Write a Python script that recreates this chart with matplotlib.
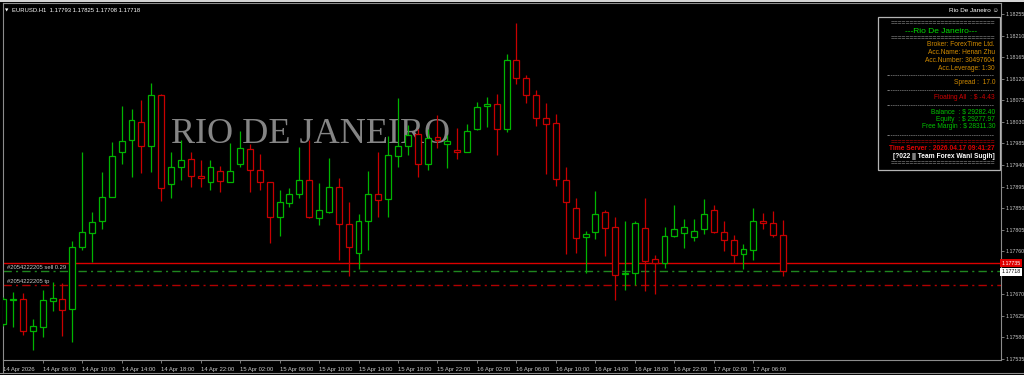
import matplotlib.pyplot as plt
from matplotlib.patches import Rectangle
from matplotlib.lines import Line2D

plt.rcParams['font.family'] = ['Liberation Sans', 'DejaVu Sans']

# EURUSD H1 candles, 14 Apr 02:00 .. 17 Apr 09:00
opens = [1.17608, 1.17658, 1.17660, 1.17594, 1.17602, 1.17657, 1.17660, 1.17639, 1.17769, 1.17797,
         1.17822, 1.17874, 1.17966, 1.17993, 1.18029, 1.17980, 1.18086, 1.17900, 1.17935, 1.17952,
         1.17917, 1.17904, 1.17927, 1.17905, 1.17941, 1.17974, 1.17929, 1.17904, 1.17832, 1.17861,
         1.17879, 1.17908, 1.17829, 1.17842, 1.17893, 1.17816, 1.17757, 1.17823, 1.17880, 1.17868,
         1.17959, 1.17980, 1.18004, 1.17943, 1.17998, 1.17984, 1.17971, 1.17968, 1.18016, 1.18062,
         1.18067, 1.18016, 1.18159, 1.18122, 1.18087, 1.18038, 1.18027, 1.17909, 1.17851, 1.17789,
         1.17799, 1.17841, 1.17810, 1.17712, 1.17715, 1.17808, 1.17743, 1.17735, 1.17792, 1.17797,
         1.17790, 1.17806, 1.17845, 1.17799, 1.17783, 1.17754, 1.17763, 1.17822, 1.17818, 1.17793]
highs = [1.17664, 1.17675, 1.17673, 1.17618, 1.17678, 1.17696, 1.17693, 1.17782, 1.17968, 1.17841,
         1.17925, 1.17988, 1.18062, 1.18056, 1.18076, 1.18110, 1.18088, 1.17966, 1.17992, 1.17968,
         1.17950, 1.17950, 1.17938, 1.17985, 1.18011, 1.17984, 1.17962, 1.17905, 1.17888, 1.17892,
         1.17977, 1.17992, 1.17902, 1.17954, 1.17913, 1.17862, 1.17837, 1.17927, 1.17968, 1.18000,
         1.18079, 1.18023, 1.18016, 1.18016, 1.18044, 1.18002, 1.18018, 1.18025, 1.18072, 1.18082,
         1.18088, 1.18171, 1.18236, 1.18128, 1.18096, 1.18069, 1.18046, 1.17935, 1.17872, 1.17803,
         1.17886, 1.17846, 1.17832, 1.17822, 1.17822, 1.17870, 1.17752, 1.17811, 1.17856, 1.17827,
         1.17827, 1.17869, 1.17856, 1.17824, 1.17794, 1.17775, 1.17850, 1.17839, 1.17844, 1.17825]
lows = [1.17604, 1.17602, 1.17585, 1.17554, 1.17580, 1.17636, 1.17582, 1.17571, 1.17763, 1.17738,
        1.17806, 1.17873, 1.17941, 1.17915, 1.17923, 1.17926, 1.17865, 1.17872, 1.17909, 1.17893,
        1.17895, 1.17888, 1.17884, 1.17904, 1.17936, 1.17884, 1.17888, 1.17778, 1.17792, 1.17853,
        1.17872, 1.17830, 1.17815, 1.17840, 1.17742, 1.17708, 1.17722, 1.17763, 1.17832, 1.17832,
        1.17936, 1.17961, 1.17914, 1.17929, 1.17976, 1.17934, 1.17952, 1.17967, 1.18013, 1.18020,
        1.17961, 1.18008, 1.18109, 1.18070, 1.18022, 1.17921, 1.17897, 1.17754, 1.17756, 1.17715,
        1.17786, 1.17750, 1.17658, 1.17679, 1.17689, 1.17677, 1.17671, 1.17724, 1.17789, 1.17766,
        1.17782, 1.17795, 1.17798, 1.17760, 1.17736, 1.17722, 1.17742, 1.17806, 1.17789, 1.17708]
closes = [1.17660, 1.17660, 1.17594, 1.17604, 1.17658, 1.17662, 1.17637, 1.17769, 1.17799, 1.17820,
          1.17874, 1.17959, 1.17991, 1.18034, 1.17980, 1.18086, 1.17891, 1.17935, 1.17950, 1.17917,
          1.17912, 1.17935, 1.17906, 1.17927, 1.17975, 1.17929, 1.17904, 1.17831, 1.17863, 1.17879,
          1.17908, 1.17831, 1.17845, 1.17893, 1.17816, 1.17769, 1.17824, 1.17880, 1.17867, 1.17961,
          1.17980, 1.18002, 1.17943, 1.17997, 1.17992, 1.17990, 1.17967, 1.18011, 1.18060, 1.18067,
          1.18016, 1.18159, 1.18121, 1.18087, 1.18037, 1.18025, 1.17910, 1.17862, 1.17788, 1.17795,
          1.17837, 1.17809, 1.17711, 1.17714, 1.17819, 1.17740, 1.17735, 1.17792, 1.17806, 1.17810,
          1.17803, 1.17837, 1.17799, 1.17783, 1.17752, 1.17764, 1.17822, 1.17819, 1.17793, 1.17718]

ask_price = 1.17735
bid_price = 1.17718
sell_open = 1.17719
tp_price = 1.17689

time_ticks = list(range(0, 80, 4))
time_labels = ["14 Apr 2026", "14 Apr 06:00", "14 Apr 10:00", "14 Apr 14:00", "14 Apr 18:00",
               "14 Apr 22:00", "15 Apr 02:00", "15 Apr 06:00", "15 Apr 10:00", "15 Apr 14:00",
               "15 Apr 18:00", "15 Apr 22:00", "16 Apr 02:00", "16 Apr 06:00", "16 Apr 10:00",
               "16 Apr 14:00", "16 Apr 18:00", "16 Apr 22:00", "17 Apr 02:00", "17 Apr 06:00"]
price_ticks = [1.18255, 1.18210, 1.18165, 1.18120, 1.18075, 1.18030, 1.17985, 1.17940,
               1.17895, 1.17850, 1.17805, 1.17760, 1.17670, 1.17625, 1.17580, 1.17535]

header = "EURUSD.H1  1.17793 1.17825 1.17708 1.17718"
panel_info = ["Broker: ForexTime Ltd.", "Acc.Name: Henan Zhu",
              "Acc.Number: 30497604", "Acc.Leverage: 1:30"]
spread_text = "Spread :  17.0"
floating_text = "Floating All  : $ -4.43"
money_lines = ["Balance  : $ 29282.40", "Equity  : $ 29277.97", "Free Margin : $ 28311.30"]
time_text = "Time Server : 2026.04.17 09:41:27"
team_text = "[?022 || Team Forex Wani Sugih]"

UP = '#00b400'
DOWN = '#c80000'
GREY = '#c8c8c8'
ORANGE = '#d08a00'

W, H = 1024, 375


def fx(x):
    return x / W


def fy(y):
    return 1 - y / H


fig = plt.figure(figsize=(10.24, 3.75), dpi=100, facecolor='black')
ax = fig.add_axes([fx(2.7), fy(360), fx(1000.7) - fx(2.7), fy(2.7) - fy(360)])
ax.set_facecolor('black')
ax.set_xlim(-0.05, 101.06)
ax.set_ylim(1.175329, 1.182786)

# watermark behind the candles
ax.text(fx(171), fy(143), "RIO DE JANEIRO", transform=fig.transFigure,
        family='Liberation Serif', fontsize=26, color='#858585', ha='left', va='baseline', zorder=1)

for i, (o, h, l, c) in enumerate(zip(opens, highs, lows, closes)):
    col = UP if c >= o else DOWN
    ax.vlines(i, l, h, color=col, lw=0.9, zorder=3)
    ax.bar(i, abs(c - o), bottom=min(o, c), width=0.6, color='black', edgecolor=col, lw=0.9, zorder=4)

ax.axhline(ask_price, color='#dc0000', lw=1.0, zorder=2)
ax.axhline(sell_open, color='#1f861f', lw=1.0, dashes=(6, 3, 1.5, 3), zorder=2)
ax.axhline(tp_price, color='#b00000', lw=1.0, dashes=(6, 3, 1.5, 3), zorder=2)
ax.text(0.4, sell_open + 0.00002, "#2054222205 sell 0.29", color=GREY, fontsize=4.2,
        ha='left', va='bottom', zorder=5)
ax.text(0.4, tp_price + 0.00002, "#2054222205 tp", color=GREY, fontsize=4.2,
        ha='left', va='bottom', zorder=5)

# axes
for s in ax.spines.values():
    s.set_color('#8c8c8c')
    s.set_linewidth(0.8)
ax.yaxis.tick_right()
ax.set_yticks(price_ticks)
ax.set_yticklabels([f"{p:.5f}" for p in price_ticks])
ax.tick_params(axis='y', colors='#8c8c8c', labelcolor=GREY, labelsize=3.8, length=2.5,
               width=0.6, pad=1.2)
ax.set_xticks(time_ticks)
ax.set_xticklabels(time_labels)
ax.tick_params(axis='x', colors='#8c8c8c', labelcolor=GREY, labelsize=4.2, length=2.5,
               width=0.6, pad=2.2)
plt.setp(ax.get_xticklabels(), ha='left')

yt = ax.get_yaxis_transform()
ax.text(1.0008, ask_price, f"{ask_price:.5f}", transform=yt, color='white', fontsize=3.8,
        ha='left', va='center', clip_on=False,
        bbox=dict(boxstyle='square,pad=0.3', fc='#e00000', ec='none'))
ax.text(1.0008, bid_price - 0.00001, f"{bid_price:.5f}", transform=yt, color='black', fontsize=3.8,
        ha='left', va='center', clip_on=False,
        bbox=dict(boxstyle='square,pad=0.3', fc='white', ec='none'))

# window frame bits
fig.patches.append(Rectangle((0, fy(2)), 1, fy(0) - fy(2), transform=fig.transFigure,
                             fc='#d4d4d4', ec='none'))
fig.lines.append(Line2D([0, 1], [fy(373.3), fy(373.3)], transform=fig.transFigure,
                        color='#8c8c8c', lw=0.8))
fig.lines.append(Line2D([fx(2.7), fx(2.7)], [fy(360), fy(373.3)], transform=fig.transFigure,
                        color='#8c8c8c', lw=0.8))

fig.text(fx(5), fy(10), "▼", color='white', fontsize=3.2, ha='left', va='center',
         family=['DejaVu Sans'])
fig.text(fx(12), fy(10), header, color='white', fontsize=4.2, ha='left', va='center')
fig.text(fx(999), fy(10.5), "Rio De Janeiro ☺", color='white', fontsize=4.6, ha='right',
         va='center', family=['Liberation Sans', 'DejaVu Sans'])

# info panel
fig.patches.append(Rectangle((fx(878.3), fy(170)), fx(1000) - fx(878.3), fy(17.3) - fy(170),
                             transform=fig.transFigure, fc='black', ec='#b4b4b4', lw=0.9, zorder=5))
RX = fx(995)
SEP = '#9a9a9a'


def ptext(y, s, color, size=4.8, ha='right', x=RX, weight='normal'):
    fig.text(x, fy(y), s, color=color, fontsize=size, ha=ha, va='center', zorder=6,
             fontweight=weight)


ptext(24, "=" * 27, SEP)
ptext(31.7, "---Rio De Janeiro---", '#00e000', size=6, ha='center', x=fx(941.5))
ptext(38.3, "=" * 27, SEP)
for y, s in zip([45, 53, 60.7, 68.3], panel_info):
    ptext(y, s, ORANGE)
ptext(76, "-" * 48, SEP)
ptext(82.7, spread_text, ORANGE)
ptext(90.7, "-" * 48, SEP)
ptext(97.7, floating_text, '#d00000')
ptext(105.7, "-" * 48, SEP)
for y, s in zip([112.3, 119.3, 126.7], money_lines):
    ptext(y, s, '#00c000')
ptext(135.3, "-" * 48, SEP)
ptext(142.3, "=" * 27, '#d00000')
ptext(149, time_text, '#e00000', weight='bold')
ptext(156.7, team_text, 'white', weight='bold')
ptext(164, "=" * 27, SEP)

fig.savefig("out.png", dpi=100, facecolor='black')
